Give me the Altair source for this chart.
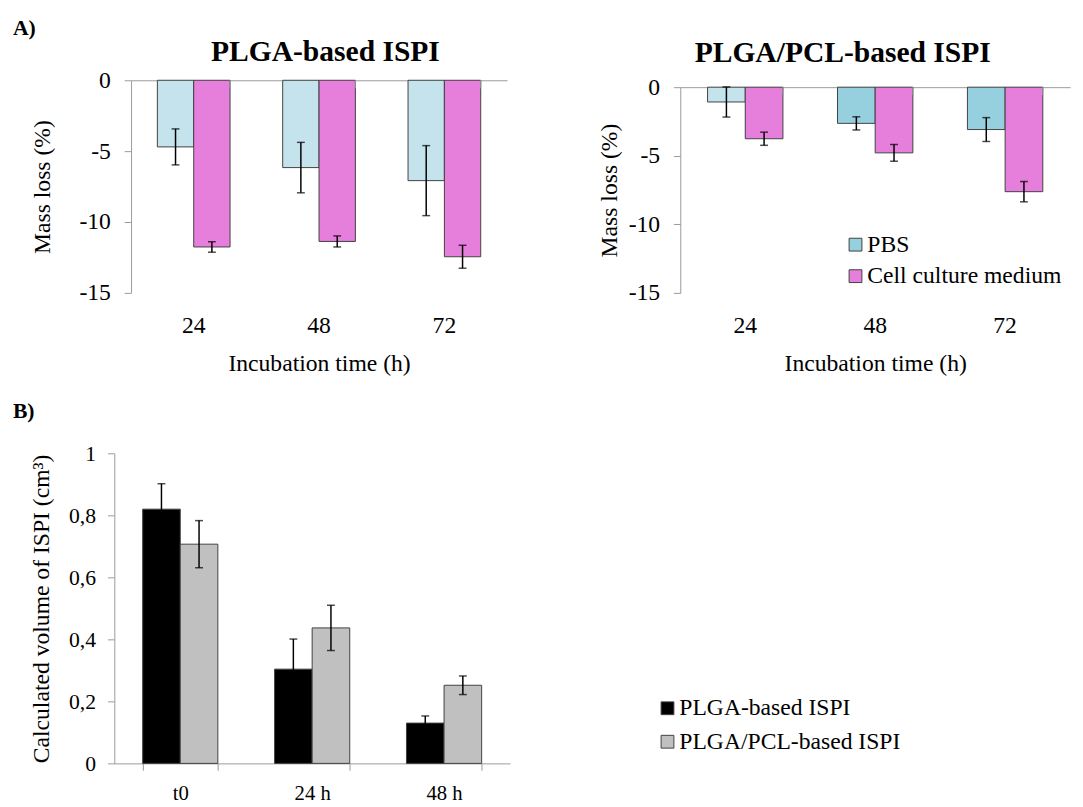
import altair as alt
import pandas as pd

# ---------------- data ----------------
times = ["24", "48", "72"]
media = ["PBS", "Cell culture medium"]

plga_pbs = [-4.70, -6.16, -7.08]
plga_pbs_err = [1.27, 1.78, 2.47]
plga_ccm = [-11.76, -11.37, -12.45]
plga_ccm_err = [0.37, 0.39, 0.81]

pcl_pbs = [-1.08, -2.64, -3.09]
pcl_pbs_err = [1.10, 0.48, 0.87]
pcl_ccm = [-3.76, -4.79, -7.62]
pcl_ccm_err = [0.48, 0.61, 0.74]

groups = ["t0", "24 h", "48 h"]
implants = ["PLGA-based ISPI", "PLGA/PCL-based ISPI"]
vol_plga = [0.820, 0.304, 0.130]
vol_plga_err = [0.082, 0.097, 0.023]
vol_pcl = [0.707, 0.437, 0.252]
vol_pcl_err = [0.076, 0.073, 0.030]

mass_ticks = [0, -5, -10, -15]
vol_ticks = [0, 0.2, 0.4, 0.6, 0.8, 1]


def long_table(cats, names, vals_list, errs_list, catname, sername):
    rows = []
    for s, vals, errs in zip(names, vals_list, errs_list):
        for c, v, e in zip(cats, vals, errs):
            rows.append({catname: c, sername: s, "value": v, "lo": v - e, "hi": v + e})
    return pd.DataFrame(rows)


df_plga = long_table(times, media, [plga_pbs, plga_ccm], [plga_pbs_err, plga_ccm_err], "time", "medium")
df_pcl = long_table(times, media, [pcl_pbs, pcl_ccm], [pcl_pbs_err, pcl_ccm_err], "time", "medium")
df_vol = long_table(groups, implants, [vol_plga, vol_pcl], [vol_plga_err, vol_pcl_err], "group", "implant")

FONT = "Liberation Serif"
AX = "#9a9a9a"
STROKE = "#404040"


def mass_panel(df, title, title_dx, title_offset, width, xrange, yrange, yoffset, top_offset,
               ytitle_pad, color):
    xscale = alt.Scale(domain=times, range=xrange, paddingInner=0.42, paddingOuter=0.21)
    yscale = alt.Scale(domain=[-15, 0], range=yrange, nice=False, zero=False)
    yaxis = alt.Axis(values=mass_ticks, labelExpr="toString(datum.value)", title="Mass loss (%)",
                     grid=False, offset=yoffset, domainColor=AX, tickColor=AX, tickSize=7,
                     labelPadding=14, titlePadding=ytitle_pad, labelFontSize=24, titleFontSize=24)
    x_bottom = alt.X("time:N", sort=times, scale=xscale,
                     axis=alt.Axis(orient="bottom", domain=False, ticks=False, labelAngle=0,
                                   labelPadding=21, title="Incubation time (h)", titlePadding=15,
                                   labelFontSize=24, titleFontSize=24))
    x_plain = alt.X("time:N", sort=times, scale=xscale, axis=None)
    xoff = alt.XOffset("medium:N", sort=media, scale=alt.Scale(domain=media, paddingInner=0, paddingOuter=0))

    bars = alt.Chart(df).mark_bar(stroke=STROKE, strokeWidth=1).encode(
        x=x_bottom, xOffset=xoff,
        y=alt.Y("value:Q", scale=yscale, axis=yaxis),
        color=color,
    )
    rules = alt.Chart(df).mark_rule(color="black", strokeWidth=1.5).encode(
        x=x_plain, xOffset=xoff,
        y=alt.Y("lo:Q", scale=yscale, axis=yaxis), y2="hi:Q",
    )
    cap_lo = alt.Chart(df).mark_tick(orient="horizontal", size=8, thickness=1.5, color="black").encode(
        x=x_plain, xOffset=xoff, y=alt.Y("lo:Q", scale=yscale, axis=yaxis))
    cap_hi = alt.Chart(df).mark_tick(orient="horizontal", size=8, thickness=1.5, color="black").encode(
        x=x_plain, xOffset=xoff, y=alt.Y("hi:Q", scale=yscale, axis=yaxis))
    zero = alt.Chart(df).mark_tick(orient="vertical", size=8, thickness=1, color=AX, yOffset=4).encode(
        x=alt.X("time:N", sort=times, scale=xscale, bandPosition=1,
                axis=alt.Axis(orient="top", labels=False, ticks=False, domain=True,
                              domainColor=AX, title=None, offset=top_offset)),
        y=alt.YDatum(0, type="quantitative", scale=yscale, axis=yaxis),
    )
    return alt.layer(bars, rules, cap_lo, cap_hi, zero).resolve_axis(x="independent").properties(
        width=width, height=216,
        title=alt.TitleParams(title, font=FONT, fontSize=30, fontWeight="bold", anchor="middle",
                              frame="group", dx=title_dx, offset=title_offset, color="black"),
    )


color_a1 = alt.Color("medium:N", scale=alt.Scale(domain=media, range=["#C5E3EC", "#E67EDC"]), legend=None)
color_a2 = alt.condition(
    "datum.time == '24' && datum.medium == 'PBS'",
    alt.value("#C5E3EC"),
    alt.Color("medium:N", scale=alt.Scale(domain=media, range=["#96CFDD", "#E67EDC"]),
              legend=alt.Legend(orient="none", legendX=166, legendY=155, title=None,
                                symbolType="square", symbolSize=169, symbolStrokeColor=STROKE,
                                symbolStrokeWidth=1, labelFont=FONT, labelFontSize=24, labelLimit=400,
                                labelOffset=0, rowPadding=8, padding=0, labelColor="black")),
)

a1 = mass_panel(df_plga, "PLGA-based ISPI", 15, 2, 399, [17, 399], [216, 0], -17, 0, 25, color_a1)
a2 = mass_panel(df_pcl, "PLGA/PCL-based ISPI", -33, 7.5, 396, [0, 396], [216, 7], 0, -7, 7, color_a2)

# ---------------- panel B ----------------
xs_b = alt.Scale(domain=groups, paddingInner=0.43, paddingOuter=0.215)
ys_b = alt.Scale(domain=[0, 1], nice=False)
yaxis_b = alt.Axis(values=vol_ticks, labelExpr="replace(toString(datum.value), '.', ',')",
                   title="Calculated volume of ISPI (cm³)", grid=False, domainColor=AX, tickColor=AX,
                   tickSize=7, labelPadding=12, titlePadding=15, labelFontSize=22, titleFontSize=24)
xaxis_b = alt.Axis(orient="bottom", tickBand="extent", tickSize=7, domainColor=AX, tickColor=AX,
                   labelAngle=0, labelPadding=13, labelFontSize=21, title=None)
xoff_b = alt.XOffset("implant:N", sort=implants, scale=alt.Scale(domain=implants, paddingInner=0, paddingOuter=0))

bars_b = alt.Chart(df_vol).mark_bar(stroke=STROKE, strokeWidth=1).encode(
    x=alt.X("group:N", sort=groups, scale=xs_b, axis=xaxis_b),
    xOffset=xoff_b,
    y=alt.Y("value:Q", scale=ys_b, axis=yaxis_b),
    color=alt.Color("implant:N", scale=alt.Scale(domain=implants, range=["#000000", "#C0C0C0"]),
                    legend=alt.Legend(orient="none", legendX=550, legendY=247, title=None,
                                      symbolType="square", symbolSize=169, symbolStrokeColor=STROKE,
                                      symbolStrokeWidth=1, labelFont=FONT, labelFontSize=24, labelLimit=400,
                                      labelOffset=0, rowPadding=10, padding=0, labelColor="black")),
)
rules_b = alt.Chart(df_vol).mark_rule(color="black", strokeWidth=1.5).encode(
    x=alt.X("group:N", sort=groups, scale=xs_b, axis=xaxis_b), xOffset=xoff_b,
    y=alt.Y("lo:Q", scale=ys_b, axis=yaxis_b), y2="hi:Q")
caplo_b = alt.Chart(df_vol).mark_tick(orient="horizontal", size=8, thickness=1.5, color="black").encode(
    x=alt.X("group:N", sort=groups, scale=xs_b, axis=xaxis_b), xOffset=xoff_b,
    y=alt.Y("lo:Q", scale=ys_b, axis=yaxis_b))
caphi_b = alt.Chart(df_vol).mark_tick(orient="horizontal", size=8, thickness=1.5, color="black").encode(
    x=alt.X("group:N", sort=groups, scale=xs_b, axis=xaxis_b), xOffset=xoff_b,
    y=alt.Y("hi:Q", scale=ys_b, axis=yaxis_b))

b = alt.layer(bars_b, rules_b, caplo_b, caphi_b).properties(
    width=402, height=315,
    title=alt.TitleParams("B)", font=FONT, fontSize=22, fontWeight="bold", anchor="start",
                          frame="group", dx=-103, offset=20, color="black"),
)

chart = alt.concat(a1, a2, b, columns=2, spacing={"row": 163, "column": 173},
                   bounds="flush", align="none").resolve_scale(
    color="independent", xOffset="independent"
).resolve_legend(color="independent").properties(
    title=alt.TitleParams("A)", font=FONT, fontSize=22, fontWeight="bold", anchor="start",
                          frame="group", dx=-103, offset=-3, color="black"),
    padding={"left": 5, "top": 3, "right": 5, "bottom": 5},
    background="white",
).configure_view(stroke=None).configure_axis(
    labelFont=FONT, titleFont=FONT, labelColor="black", titleColor="black", titleFontWeight="normal"
)

chart.save("out.html", embed_options={"renderer": "svg", "actions": False})
